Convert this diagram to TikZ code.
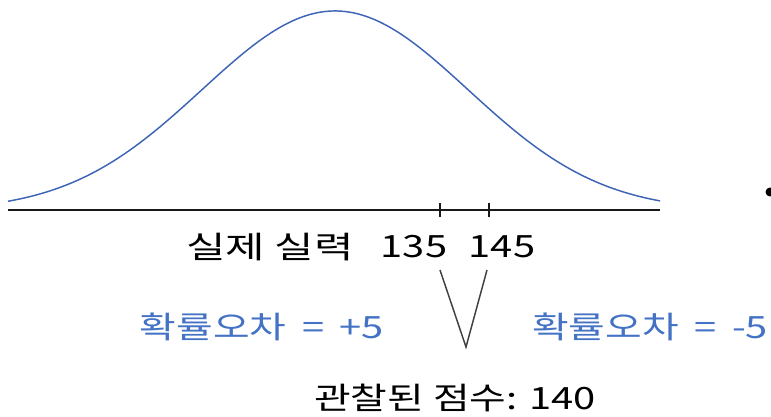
\documentclass[tikz,border=0pt]{standalone}
\usepackage{fontspec}
\setmainfont{Noto Sans CJK KR}
\usetikzlibrary{positioning}
\definecolor{errblue}{RGB}{68,114,196}
\definecolor{curveblue}{RGB}{62,100,182}
\newcommand{\widetext}[2][1.4]{\scalebox{#1}[1]{#2}}

\begin{document}
\begin{tikzpicture}[
    x=0.75pt, y=-0.75pt,
    every node/.style={font=\fontsize{23pt}{26pt}\selectfont, inner sep=0pt, anchor=center},
    axisline/.style={draw=black!90, line width=1.6pt},
    tick/.style={draw=black!90, line width=1.2pt},
    curve/.style={draw=curveblue, line width=1.1pt},
    vline/.style={draw=black!75, line width=1.1pt},
    errtext/.style={text=errblue}
]
\useasboundingbox (0,0) rectangle (771,417);

% normal curve and axis
\draw[curve] plot[domain=8:660, samples=120, smooth]
    (\x, {211-200*exp(-0.5*((\x-335)/133)^2)});
\coordinate (axl) at (8,210);
\coordinate (axr) at (660,210);
\draw[axisline] (axl) -- (axr);

% ticks
\coordinate (t135) at (440,210);
\coordinate (t145) at (489,210);
\draw[tick] ([yshift=-5.5]t135) -- ([yshift=5.5]t135);
\draw[tick] ([yshift=-5.5]t145) -- ([yshift=5.5]t145);

% labels under axis
\node (true) at (270,247) {\widetext{실제 실력}};
\node (n135) at (414,247) {\widetext[1.3]{135}};
\node (n145) at (502,247) {\widetext[1.3]{145}};

% error labels
\node[errtext] (errp) at (262,327) {\widetext[1.3]{확률오차 \,=\, +5}};
\node[errtext] (errm) at (650,327) {\widetext[1.3]{확률오차 \,=\, -5}};

% V to observed score
\coordinate (vl) at (440,270);
\coordinate (vr) at (487,270);
\coordinate (vtip) at (466,347);
\draw[vline] (vl) -- (vtip) -- (vr);
\node (obs) at (455,398) {\widetext[1.3]{관찰된 점수: 140}};

% bullet at right edge
\fill (770,192) circle (4.5);
\end{tikzpicture}
\end{document}
